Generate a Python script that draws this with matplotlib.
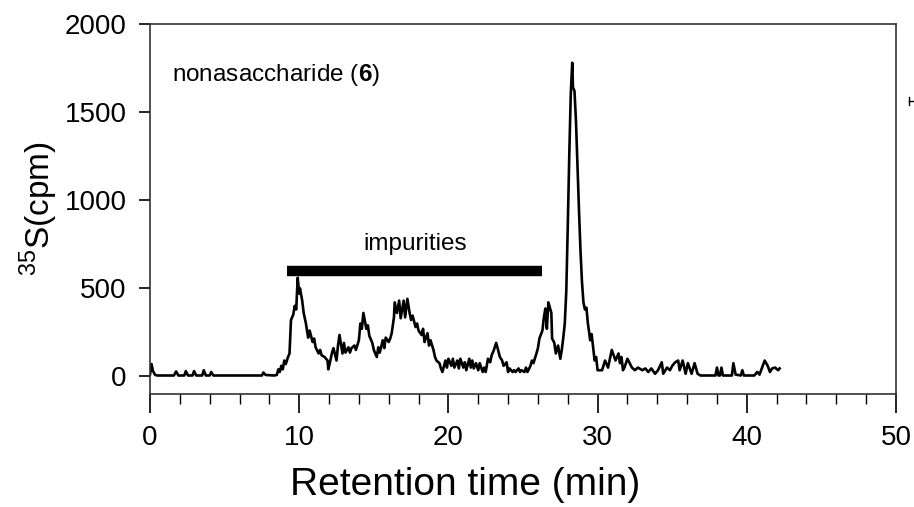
import matplotlib
matplotlib.use("Agg")
import matplotlib.pyplot as plt
from matplotlib.lines import Line2D

plt.rcParams['font.family'] = ['Liberation Sans', 'DejaVu Sans']
plt.rcParams['mathtext.fontset'] = 'custom'
plt.rcParams['mathtext.rm'] = 'Liberation Sans'
plt.rcParams['mathtext.bf'] = 'Liberation Sans:bold'

# retention time (min) and 35S counts
time_min = [0.0, 0.1, 0.2, 0.35, 0.5, 1.0, 1.6, 1.75, 1.9, 2.3, 2.4, 2.55, 2.85, 2.95, 3.1,
            3.5, 3.6, 3.75, 4.0, 4.1, 4.25, 5.0, 6.0, 7.0, 7.5, 7.6, 7.75, 8.3, 8.5, 8.6,
            8.7, 8.8, 8.9, 9.0, 9.1, 9.25, 9.35, 9.45, 9.6, 9.7, 9.8, 9.9, 10.0, 10.05, 10.2,
            10.3, 10.45, 10.6, 10.7, 10.9, 11.0, 11.1, 11.3, 11.4, 11.5, 11.7, 11.9, 11.95, 12.05, 12.2,
            12.3, 12.5, 12.6, 12.7, 12.9, 13.0, 13.1, 13.3, 13.4, 13.5, 13.7, 13.8, 14.0, 14.1, 14.2,
            14.3, 14.5, 14.6, 14.7, 14.9, 15.0, 15.2, 15.3, 15.4, 15.6, 15.7, 15.8, 16.0, 16.1, 16.2,
            16.35, 16.4, 16.55, 16.7, 16.8, 17.0, 17.1, 17.25, 17.4, 17.5, 17.6, 17.8, 17.9, 18.0, 18.2,
            18.3, 18.4, 18.6, 18.7, 18.8, 19.0, 19.1, 19.2, 19.4, 19.5, 19.6, 19.8, 19.9, 20.0, 20.2,
            20.3, 20.4, 20.6, 20.7, 20.8, 21.0, 21.1, 21.2, 21.4, 21.5, 21.6, 21.7, 21.85, 22.0, 22.1,
            22.3, 22.4, 22.5, 22.65, 22.8, 22.9, 23.05, 23.2, 23.3, 23.45, 23.6, 23.7, 23.9, 24.0, 24.1,
            24.3, 24.4, 24.5, 24.7, 24.8, 24.9, 25.1, 25.2, 25.3, 25.5, 25.6, 25.7, 25.9, 26.0, 26.1,
            26.3, 26.4, 26.5, 26.6, 26.7, 26.9, 26.95, 27.1, 27.2, 27.35, 27.5, 27.6, 27.7, 27.8, 27.9,
            28.0, 28.1, 28.2, 28.3, 28.35, 28.45, 28.55, 28.65, 28.75, 28.85, 28.95, 29.05, 29.15, 29.25, 29.35,
            29.45, 29.5, 29.6, 29.7, 29.8, 29.9, 30.0, 30.3, 30.5, 30.7, 30.95, 31.2, 31.4, 31.5, 31.6,
            31.7, 31.8, 32.0, 32.3, 32.5, 32.7, 33.0, 33.2, 33.4, 33.6, 33.85, 34.05, 34.3, 34.4, 34.65,
            34.85, 35.0, 35.2, 35.4, 35.5, 35.7, 35.9, 36.05, 36.3, 36.5, 36.7, 36.9, 37.9, 38.0, 38.1,
            38.2, 38.3, 38.4, 39.0, 39.1, 39.25, 39.6, 39.7, 39.8, 40.5, 40.7, 40.85, 41.0, 41.2, 41.4,
            41.55, 41.7, 41.9, 42.1, 42.2]
counts = [10, 70, 30, 8, 5, 5, 5, 28, 5, 5, 30, 5, 5, 30, 5,
          5, 35, 5, 5, 25, 5, 5, 5, 5, 5, 22, 8, 5, 8, 40,
          25, 60, 40, 90, 70, 110, 130, 320, 350, 400, 380, 560, 470, 500, 430,
          360, 300, 220, 260, 195, 215, 165, 130, 150, 120, 110, 90, 40, 75, 135,
          160, 90, 175, 235, 130, 190, 135, 165, 135, 160, 175, 150, 205, 300, 270,
          360, 270, 290, 230, 190, 150, 110, 165, 135, 205, 160, 220, 195, 215, 245,
          335, 420, 360, 430, 330, 430, 335, 440, 360, 320, 345, 280, 300, 260, 235,
          270, 195, 245, 175, 205, 150, 110, 90, 75, 45, 25, 90, 50, 100, 60,
          100, 50, 90, 45, 100, 50, 80, 35, 100, 50, 90, 45, 75, 35, 75,
          25, 50, 25, 100, 80, 120, 150, 190, 160, 110, 90, 60, 80, 25, 45,
          25, 35, 25, 45, 25, 35, 25, 50, 25, 60, 90, 75, 130, 160, 215,
          260, 335, 385, 270, 420, 360, 215, 190, 130, 175, 100, 150, 220, 300, 480,
          850, 1250, 1600, 1780, 1640, 1620, 1450, 1200, 950, 720, 540, 420, 380, 390, 300,
          240, 205, 240, 165, 90, 110, 35, 35, 90, 50, 150, 90, 130, 75, 110,
          35, 50, 100, 50, 35, 50, 35, 45, 25, 45, 15, 35, 80, 15, 50,
          35, 60, 80, 90, 35, 90, 15, 75, 15, 75, 15, 5, 5, 50, 5,
          5, 50, 5, 5, 75, 10, 5, 35, 5, 5, 25, 10, 45, 90, 60,
          25, 45, 50, 35, 45]

impurity_range = [9.2, 26.3]
impurity_level = 600

fig = plt.figure(figsize=(9.14, 5.07), dpi=100)
ax = fig.add_axes([150/914, 1-394/507, 746/914, 370/507])

ax.plot(time_min, counts, color='black', lw=1.9)
ax.plot(impurity_range, [impurity_level, impurity_level], color='black', lw=7.5,
        solid_capstyle='butt')
ax.text(sum(impurity_range)/2, impurity_level + 90, 'impurities', ha='center',
        va='bottom', fontsize=17.5)
ax.text(1.5, 1710, r'nonasaccharide ($\mathbf{6}$)', ha='left', va='center',
        fontsize=17.5)

ax.set_xlim(0, 50)
ax.set_ylim(-100, 2000)
ax.set_xticks(range(0, 51, 10))
ax.set_xticks(range(0, 51, 2), minor=True)
ax.set_yticks(range(0, 2001, 500))
ax.tick_params(axis='both', which='major', labelsize=20, width=1.2, direction='out')
ax.tick_params(axis='x', which='major', length=14, pad=8)
ax.tick_params(axis='y', which='major', length=8, pad=9)
ax.tick_params(axis='x', which='minor', length=7, width=1.0)
ax.tick_params(axis='y', which='minor', left=False)
for s in ax.spines.values():
    s.set_linewidth(1.2)
    s.set_color('#333333')

ax.set_xlabel('Retention time (min)', fontsize=28)
ax.xaxis.set_label_coords(0.423, -0.198)
ax.set_ylabel(r'$^{35}$S(cpm)', fontsize=24, labelpad=3)

# stray mark at the right edge of the original figure
fig.add_artist(Line2D([909/914, 909/914], [1-97/507, 1-105/507], color='black', lw=1))
fig.add_artist(Line2D([909/914, 914/914], [1-101/507, 1-101/507], color='black', lw=1))

fig.savefig('out.png', dpi=100)
